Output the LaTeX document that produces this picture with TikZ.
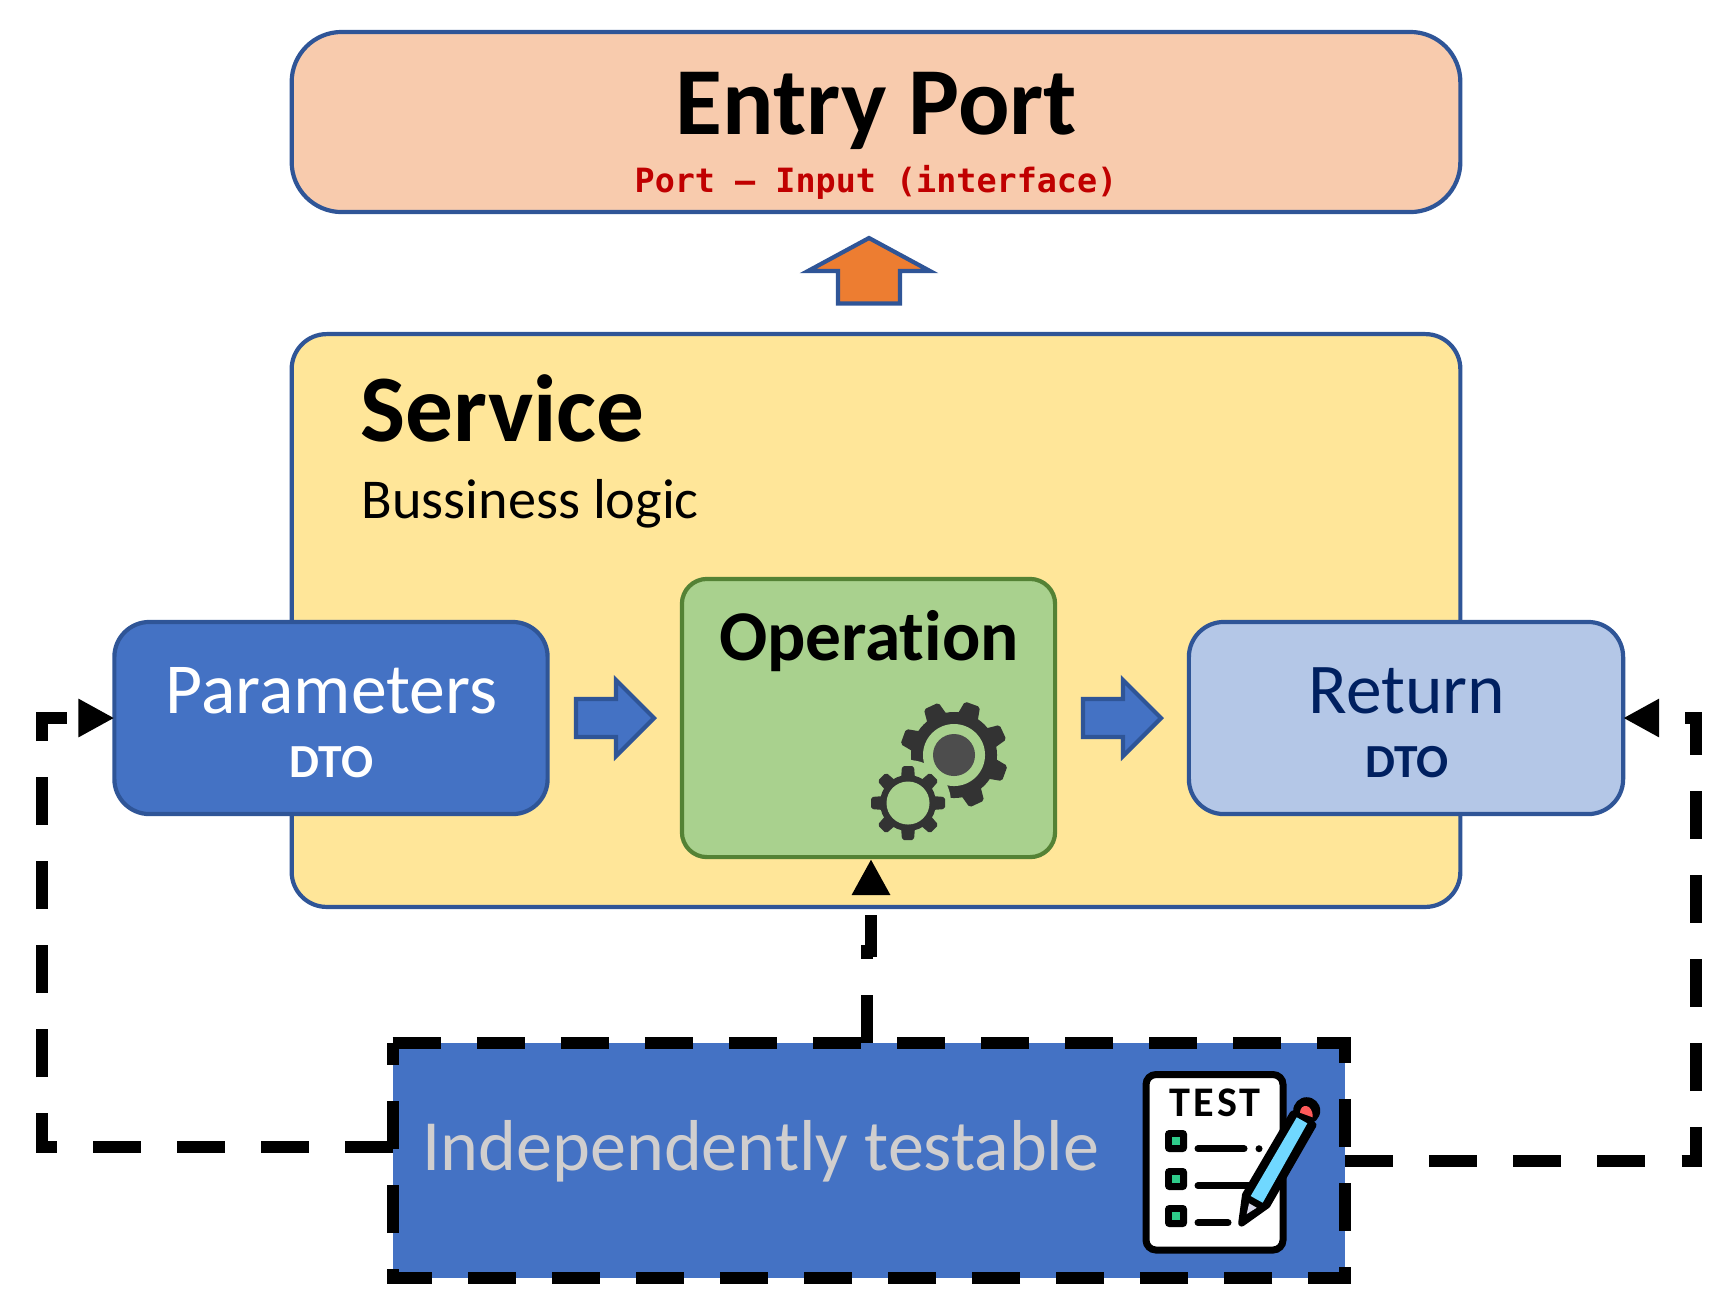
\documentclass[tikz,border=0pt]{standalone}
\usepackage{fontspec}
\setmainfont[Ligatures=NoCommon]{Carlito}
\newfontfamily\monob{DejaVu Sans Mono}
\newfontfamily\testfont[LetterSpace=8]{Carlito}
\usetikzlibrary{arrows.meta}
\definecolor{edgeblue}{HTML}{2F5597}
\definecolor{fillblue}{HTML}{4472C4}
\definecolor{lightblue}{HTML}{B4C7E7}
\definecolor{navy}{HTML}{002060}
\definecolor{peach}{HTML}{F8CBAD}
\definecolor{sand}{HTML}{FFE699}
\definecolor{leaf}{HTML}{A9D18E}
\definecolor{leafedge}{HTML}{548235}
\definecolor{portred}{HTML}{C00000}
\definecolor{upcol}{HTML}{ED7D31}
\definecolor{gearcol}{HTML}{333333}
\definecolor{hubcol}{HTML}{4D4D4D}
\definecolor{testgrey}{HTML}{D0CECE}
\definecolor{checkcol}{HTML}{2ECC8A}
\definecolor{pencilcol}{HTML}{70D8FF}
\definecolor{capcol}{HTML}{FF5A5A}
\definecolor{nibcol}{HTML}{D6D6E8}
\tikzset{>={Triangle[length=.36cm,width=.36cm]}}
\tikzset{
  box/.style={draw=edgeblue,line width=.042cm,rounded corners=.35cm,inner sep=0pt,outer sep=0pt},
  lbl/.style={anchor=base,inner sep=0pt},
  blockarrow/.style={draw=edgeblue,line width=.042cm,fill=fillblue,miter limit=10},
  conn/.style={line width=.12cm,dash pattern=on .48cm off .36cm,->},
}
\begin{document}
\begin{tikzpicture}[x=.01cm,y=-.01cm]
\useasboundingbox (0,0) rectangle (1734,1308);
% top box
\node[box,rounded corners=.5cm,fill=peach,minimum width=11.68cm,minimum height=1.8cm] (entry) at (876,122) {};
\node[lbl,font=\fontsize{27.3}{27}\selectfont\bfseries] (entrytxt) at (876.5,134) {Entry Port};
\node[lbl,text=portred,font=\fontsize{9.5}{10}\selectfont\monob\bfseries] (porttxt) at (876,192) {Port – Input (interface)};
\draw[line width=.042cm,draw=edgeblue,fill=upcol,miter limit=10] (869,238) -- (930,271) -- (900,271) -- (900,303.5) -- (838,303.5) -- (838,271) -- (808,271) -- cycle;
% service
\node[box,fill=sand,minimum width=11.68cm,minimum height=5.725cm] (service) at (876,620.5) {};
\node[lbl,anchor=base west,font=\fontsize{27.1}{27}\selectfont\bfseries] (servicetxt) at (360,441) {Service};
\node[lbl,anchor=base west,font=\fontsize{16}{16}\selectfont] (logictxt) at (361,518) {Bussiness logic};
% dto boxes
\node[box,fill=fillblue,minimum width=4.33cm,minimum height=1.92cm] (par) at (331,718) {};
\node[lbl,text=white,font=\fontsize{20.4}{20}\selectfont] (partxt) at (331.5,713.5) {Parameters};
\node[lbl,text=white,font=\fontsize{13.5}{13}\selectfont\bfseries] (pardto) at (331.5,777.5) {DTO};
\node[box,fill=lightblue,minimum width=4.34cm,minimum height=1.92cm] (ret) at (1406,718) {};
\node[lbl,text=navy,font=\fontsize{20.3}{20}\selectfont] (rettxt) at (1407,713.5) {Return};
\node[lbl,text=navy,font=\fontsize{13.5}{13}\selectfont\bfseries] (retdto) at (1407,777.5) {DTO};
% operation
\node[box,draw=leafedge,rounded corners=.25cm,fill=leaf,minimum width=3.73cm,minimum height=2.78cm] (op) at (868.5,718) {};
\node[lbl,font=\fontsize{20.3}{20}\selectfont\bfseries] (optxt) at (869,660) {Operation};
\draw[blockarrow] (576,699) -- (616,699) -- (616,680) -- (654,718) -- (616,756) -- (616,737) -- (576,737) -- cycle;
\draw[blockarrow] (1083,699) -- (1123,699) -- (1123,680) -- (1161,718) -- (1123,756) -- (1123,737) -- (1083,737) -- cycle;
% gears
\foreach \a in {25,70,115,160,205,250,295,340}
  \fill[gearcol,rounded corners=.02cm,shift={(954,755)},rotate=\a] (38,-11) -- (54,-8) -- (54,8) -- (38,11) -- cycle;
\fill[gearcol] (954,755) circle (.43cm);
\fill[leaf] (954,755) circle (.31cm);
\fill[hubcol] (954,755) circle (.21cm);
\fill[leaf] (908,803) circle (.43cm);
\foreach \a in {0,45,...,315}
  \fill[gearcol,rounded corners=.02cm,shift={(908,803)},rotate=\a] (24,-7) -- (37,-6) -- (37,6) -- (24,7) -- cycle;
\fill[gearcol] (908,803) circle (.28cm);
\fill[leaf] (908,803) circle (.215cm);
% test box
\node[fill=fillblue,inner sep=0pt,outer sep=0pt,minimum width=9.52cm,minimum height=2.35cm] (test) at (869,1160.5) {};
\node[lbl,anchor=base west,text=testgrey,font=\fontsize{20.5}{20}\selectfont] (testtxt) at (422,1170) {Independently testable};
\draw[line width=.12cm,dash pattern=on .48cm off .36cm] (test.north west) -- (test.north east) -- (test.south east) -- (test.south west) -- cycle;
% paper and pencil
\draw[line width=.07cm,fill=white,rounded corners=.1cm] (1146,1074.5) rectangle (1283,1250);
\node[lbl,font=\fontsize{12}{12}\selectfont\testfont\bfseries] (testword) at (1215,1116) {TEST};
\foreach \y in {1141,1179,1216}{
  \fill[rounded corners=.04cm] (1165,\y-11) rectangle (1187,\y+11);
  \fill[checkcol] (1172,\y-4) rectangle (1180,\y+4);
}
\draw[line width=.07cm,line cap=round] (1198,1148.7) -- (1244,1148.7);
\fill (1259,1148.7) circle (.035cm);
\draw[line width=.07cm,line cap=round] (1198,1185.7) -- (1250,1185.7);
\draw[line width=.07cm,line cap=round] (1198,1222.7) -- (1228,1222.7);
\fill (1306.7,1110.7) circle (.135cm);
\draw[line width=.07cm,line join=round,fill=black] (1241.7,1223) -- (1245.5,1195) -- (1293,1114) -- (1313,1125) -- (1267,1205) -- cycle;
\fill[pencilcol] (1296.7,1117.3) -- (1307.3,1123.3) -- (1262.7,1202.7) -- (1250.7,1196) -- cycle;
\fill[nibcol] (1246.7,1214) -- (1249,1203.3) -- (1256.7,1207.7) -- cycle;
\fill[capcol] (1300,1112.7) .. controls (1300,1103) and (1313,1103) .. (1312.7,1117.3) -- cycle;
% connectors
\coordinate (lstart) at (393,1146.5);
\coordinate (lbot) at (42,1146.5);
\coordinate (ltop) at (42,718);
\draw[conn] (lstart) -- (lbot) -- (ltop) -- (par.west);
\coordinate (rbot) at (1696,1160.5);
\coordinate (rtop) at (1696,718);
\draw[conn] (test.east) -- (rbot) -- (rtop) -- (ret.east);
\coordinate (mstart) at (867,1043);
\coordinate (mjog) at (867,951);
\coordinate (mjog2) at (871,951);
\coordinate (mtip) at (871,859);
\draw[conn] (mstart) -- (mjog) -- (mjog2) -- (mtip);
\end{tikzpicture}
\end{document}
